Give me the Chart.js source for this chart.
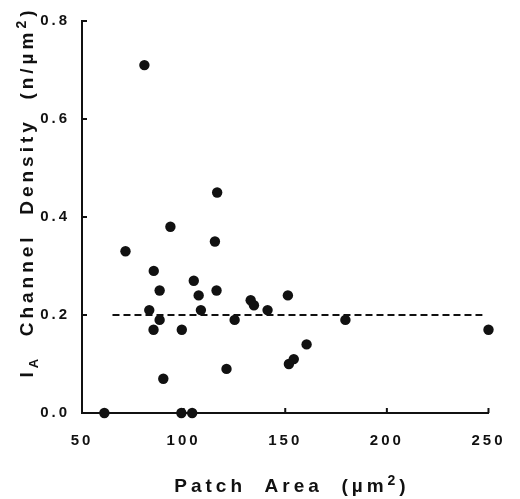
<!DOCTYPE html>
<html lang="en">
<head>
<meta charset="UTF-8">
<title>IA Channel Density vs Patch Area</title>
<script src="https://cdn.jsdelivr.net/npm/chart.js@4.4.1/dist/chart.umd.min.js"></script>
<style>
  body { margin: 0; background: #fff; }
  .chart-container { width: 520px; height: 499px; }
</style>
</head>
<body>
<div class="chart-container"><canvas id="densityChart" width="520" height="499"></canvas></div>
<script>
// Patch area (µm²) and I_A channel density (n/µm²)
const patchArea = [80.7, 116.5, 93.5, 115.4, 71.4, 85.3, 105, 88.2, 116.2, 107.4,
                   83.1, 108.5, 88.2, 125.1, 85.2, 99.1, 121.1, 90, 61, 98.9,
                   104.2, 133, 134.6, 151.3, 141.3, 179.6, 250, 160.5, 154.2, 151.8];
const channelDensity = [0.71, 0.45, 0.38, 0.35, 0.33, 0.29, 0.27, 0.25, 0.25, 0.24,
                        0.21, 0.21, 0.19, 0.19, 0.17, 0.17, 0.09, 0.07, 0, 0,
                        0, 0.23, 0.22, 0.24, 0.21, 0.19, 0.17, 0.14, 0.11, 0.10];

// mean level (dashed line) and its x extent
const meanDensity = 0.2;
const meanRange = [65, 247];

const xTicks = [50, 100, 150, 200, 250];
const yTicks = [0, 0.2, 0.4, 0.6, 0.8];

const FONT = '"Liberation Sans", Arial, sans-serif';
const INK = '#111';

// short tick marks pointing into the plot, like the original
const innerTicks = {
    id: 'innerTicks',
    beforeDraw(chart) {
        chart.ctx.letterSpacing = '3px';
    },
    afterDraw(chart) {
        const ctx = chart.ctx;
        const { x, y } = chart.scales;
        ctx.save();
        ctx.strokeStyle = INK;
        ctx.lineWidth = 2;
        ctx.beginPath();
        xTicks.forEach(v => {
            const px = x.getPixelForValue(v);
            ctx.moveTo(px, y.bottom);
            ctx.lineTo(px, y.bottom - 5);
        });
        yTicks.forEach(v => {
            const py = y.getPixelForValue(v);
            ctx.moveTo(x.left, py);
            ctx.lineTo(x.left + 5, py);
        });
        ctx.stroke();
        ctx.restore();
    }
};

// axis titles with sub/superscripts
function drawParts(ctx, parts, startX) {
    let cx = startX;
    parts.forEach(p => {
        ctx.font = 'bold ' + p.size + 'px ' + FONT;
        ctx.fillText(p.text, cx, p.dy || 0);
        cx += ctx.measureText(p.text).width;
    });
}
function partsWidth(ctx, parts) {
    let w = 0;
    parts.forEach(p => {
        ctx.font = 'bold ' + p.size + 'px ' + FONT;
        w += ctx.measureText(p.text).width;
    });
    return w;
}

const axisTitles = {
    id: 'axisTitles',
    afterDraw(chart) {
        const ctx = chart.ctx;
        const xParts = [
            { text: 'Patch  Area  (\u00b5m', size: 19 },
            { text: '2', size: 14, dy: -7 },
            { text: ')', size: 19 }
        ];
        const yParts = [
            { text: 'I', size: 19 },
            { text: 'A', size: 13, dy: 5 },
            { text: '  Channel  Density  (n/\u00b5m', size: 19 },
            { text: '2', size: 14, dy: -7 },
            { text: ')', size: 19 }
        ];
        ctx.save();
        ctx.fillStyle = INK;
        ctx.textBaseline = 'alphabetic';
        ctx.textAlign = 'left';
        ctx.letterSpacing = '4px';

        ctx.save();
        ctx.translate(292, 492);
        drawParts(ctx, xParts, -partsWidth(ctx, xParts) / 2);
        ctx.restore();

        ctx.save();
        ctx.translate(33, 192);
        ctx.rotate(-Math.PI / 2);
        drawParts(ctx, yParts, -partsWidth(ctx, yParts) / 2);
        ctx.restore();

        ctx.restore();
    }
};

const ctxDensity = document.getElementById('densityChart').getContext('2d');

const densityChart = new Chart(ctxDensity, {
    type: 'scatter',
    data: {
        datasets: [{
            label: 'I_A channel density',
            data: patchArea.map((a, i) => ({ x: a, y: channelDensity[i] })),
            backgroundColor: INK,
            borderWidth: 0,
            pointRadius: 5.2,
            clip: false,
            order: 0
        }, {
            type: 'line',
            label: 'mean',
            data: meanRange.map(a => ({ x: a, y: meanDensity })),
            borderColor: INK,
            borderWidth: 2,
            borderDash: [7, 4],
            pointRadius: 0,
            fill: false,
            order: 1
        }]
    },
    options: {
        responsive: false,
        animation: false,
        layout: {
            padding: { top: 16, right: 21, left: 0, bottom: 0 }
        },
        plugins: {
            legend: { display: false },
            tooltip: { enabled: false }
        },
        scales: {
            x: {
                type: 'linear',
                min: 50,
                max: 250,
                afterBuildTicks: s => { s.ticks = xTicks.map(v => ({ value: v })); },
                afterFit: s => { s.height = 86; },
                grid: { display: false, drawTicks: false },
                border: { display: true, color: INK, width: 2 },
                ticks: {
                    color: INK,
                    padding: 19,
                    maxRotation: 0,
                    font: { family: FONT, size: 15, weight: 'bold' }
                }
            },
            y: {
                type: 'linear',
                min: 0,
                max: 0.8,
                afterBuildTicks: s => { s.ticks = yTicks.map(v => ({ value: v })); },
                afterFit: s => { s.width = 82; },
                grid: { display: false, drawTicks: false },
                border: { display: true, color: INK, width: 2 },
                ticks: {
                    color: INK,
                    padding: 12,
                    font: { family: FONT, size: 15, weight: 'bold' },
                    callback: v => v.toFixed(1)
                }
            }
        }
    },
    plugins: [innerTicks, axisTitles]
});
</script>
</body>
</html>
